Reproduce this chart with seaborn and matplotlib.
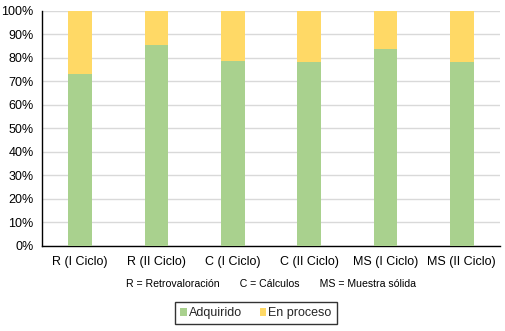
import matplotlib
matplotlib.use("Agg")
import matplotlib.pyplot as plt
import seaborn as sns
import pandas as pd
from matplotlib.patches import Patch
from matplotlib.ticker import FuncFormatter

categories = ["R (I Ciclo)", "R (II Ciclo)", "C (I Ciclo)", "C (II Ciclo)", "MS (I Ciclo)", "MS (II Ciclo)"]
adquirido = [73.3, 85.5, 78.7, 78.4, 83.8, 78.4]
en_proceso = [26.7, 14.5, 21.3, 21.6, 16.2, 21.6]
yticks = [0, 10, 20, 30, 40, 50, 60, 70, 80, 90, 100]

sns.set_theme(style="white")
plt.rcParams['font.family'] = ['Liberation Sans', 'DejaVu Sans']

green = "#A9D18E"
yellow = "#FFD966"

df = pd.DataFrame({"cat": categories, "adq": adquirido,
                   "total": [a + b for a, b in zip(adquirido, en_proceso)]})

fig = plt.figure(figsize=(5.06, 3.31), dpi=100)
ax = fig.add_axes([0.083, 0.257, 0.905, 0.710])

sns.barplot(data=df, x="cat", y="total", color=yellow, width=0.31, ax=ax,
            saturation=1, edgecolor="none", zorder=2)
sns.barplot(data=df, x="cat", y="adq", color=green, width=0.31, ax=ax,
            saturation=1, edgecolor="none", zorder=3)

ax.set_ylim(0, 100)
ax.set_xlim(-0.5, 5.5)
ax.set_yticks(yticks)
ax.yaxis.set_major_formatter(FuncFormatter(lambda v, p: f"{int(v)}%"))
ax.grid(axis="y", color="#D9D9D9", linewidth=1, zorder=0)
ax.set_axisbelow(True)
ax.set_xlabel("")
ax.set_ylabel("")
for s in ["top", "right"]:
    ax.spines[s].set_visible(False)
for s in ["left", "bottom"]:
    ax.spines[s].set_color("black")
    ax.spines[s].set_linewidth(1)
ax.tick_params(axis="both", length=0, labelsize=9, colors="black")
ax.tick_params(axis="x", pad=7)
ax.tick_params(axis="y", pad=6)

fig.text(0.535, 0.142, "R = Retrovaloración       C = Cálculos       MS = Muestra sólida",
         ha="center", va="center", fontsize=7.6, color="black")

handles = [Patch(facecolor=green, edgecolor="none", label="Adquirido"),
           Patch(facecolor=yellow, edgecolor="none", label="En proceso")]
leg = fig.legend(handles=handles, loc="center", bbox_to_anchor=(0.506, 0.053),
                 ncol=2, frameon=True, fontsize=9, handlelength=0.5, handleheight=0.5,
                 handletextpad=0.2, columnspacing=1.4, borderpad=0.4,
                 fancybox=False)
leg.get_frame().set_edgecolor("black")
leg.get_frame().set_linewidth(1)

fig.savefig("out.png", dpi=100)
